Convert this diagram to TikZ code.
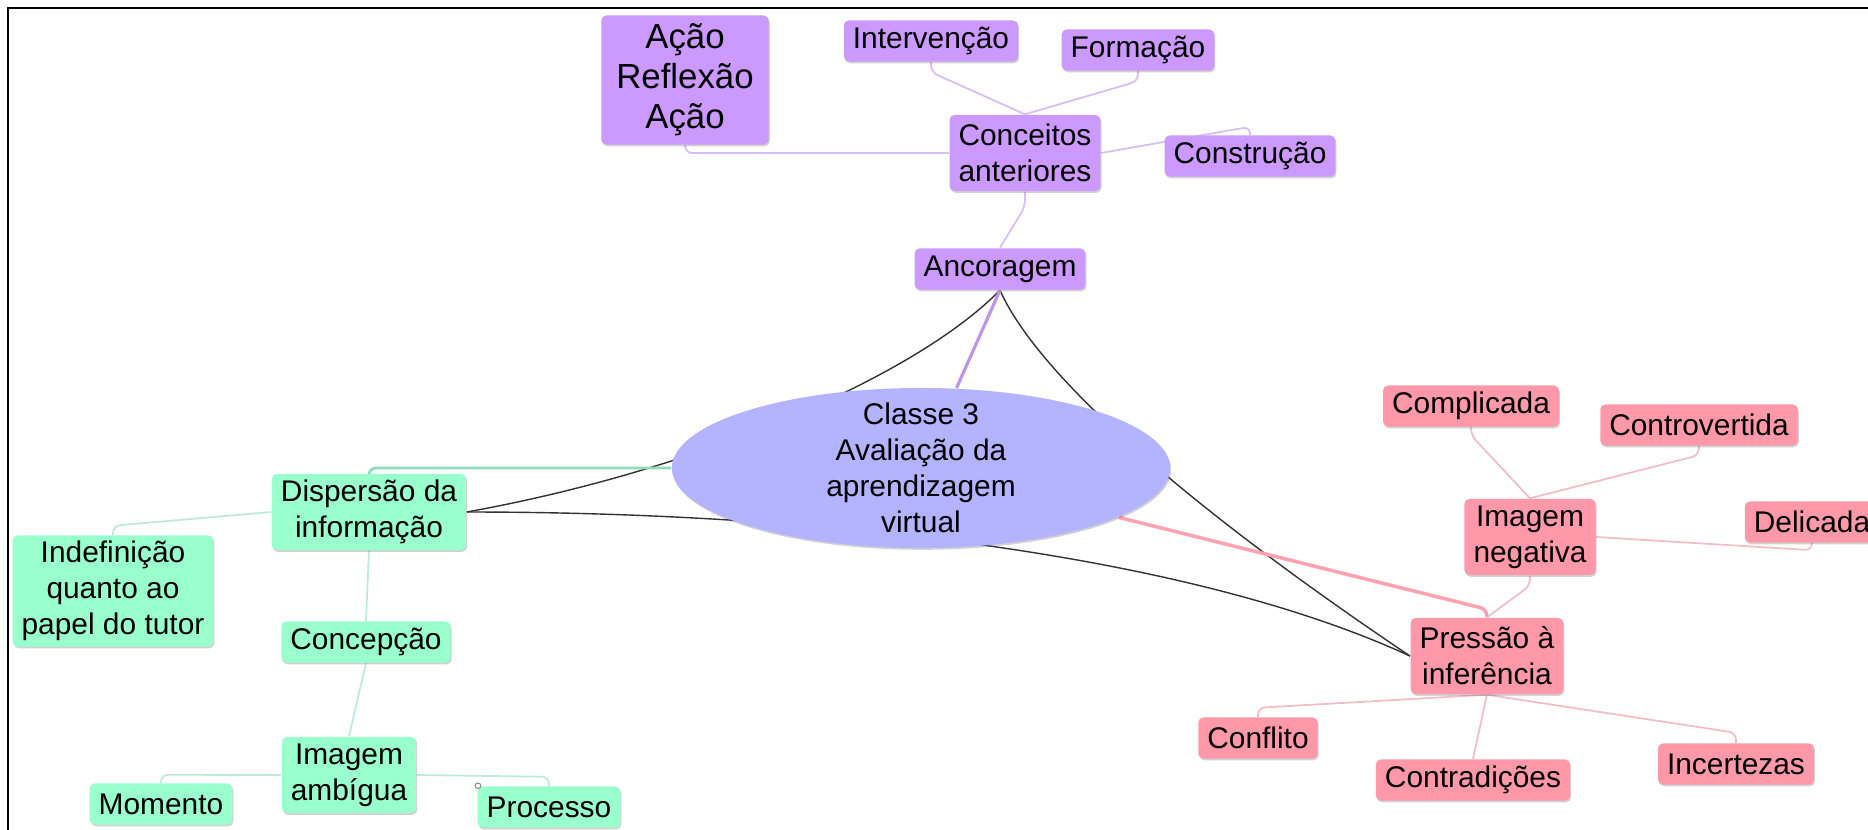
\documentclass[tikz,border=0pt]{standalone}
\usepackage{fontspec}
\setmainfont{Liberation Sans}
\usetikzlibrary{shapes.geometric, shadows, calc, backgrounds}

\definecolor{lilac}{HTML}{CC99FF}
\definecolor{mint}{HTML}{99FFCC}
\definecolor{rose}{HTML}{FF99AA}
\definecolor{periwinkle}{HTML}{B3B3FF}
\definecolor{lilacline}{HTML}{D6BDF2}
\definecolor{mintline}{HTML}{BDEBD8}
\definecolor{roseline}{HTML}{F2BDC7}

\begin{document}
\begin{tikzpicture}[x=0.01cm, y=-0.01cm,
		every node/.style = {font=\fontsize{8.5}{10.2}\selectfont, align=center},
		box/.style = {rectangle, rounded corners=1.4pt, inner xsep=0.09cm, inner ysep=0pt,
			drop shadow={shadow xshift=0.3pt, shadow yshift=-0.5pt, opacity=0.3, fill=black!60}},
		one/.style = {box, minimum height=0.41cm},
		two/.style = {box, minimum height=0.76cm},
		vbox/.style = {fill=lilac},
		gbox/.style = {fill=mint},
		rbox/.style = {fill=rose},
		thin/.style = {line width=0.5pt, rounded corners=2pt},
		vline/.style = {thin, draw=lilacline},
		gline/.style = {thin, draw=mintline},
		rline/.style = {thin, draw=roseline},
		xlink/.style = {line width=0.4pt, draw=black!80}]
	\useasboundingbox (0,0) rectangle (1868,830);
	\draw[line width=0.5pt] (8,830) -- (8,8) -- (1868,8);
	
	% centre
	\node [ellipse, fill=periwinkle, minimum width=4.98cm, minimum height=1.6cm, inner sep=0pt,
		drop shadow={shadow xshift=0.3pt, shadow yshift=-0.5pt, opacity=0.3, fill=black!60}] (core) at (921,468) {};
	\node (coretxt) at (core.center) {Classe 3\\Avaliação da\\aprendizagem\\virtual};
	
	% Ancoragem
	\node [one, vbox] (anco) at (1000,269) {Ancoragem};
	\node [two, vbox] (conc) at (1025,153) {Conceitos\\anteriores};
	\node [box, vbox, inner xsep=0.15cm, minimum height=1.29cm, font=\fontsize{9.9}{11.4}\selectfont] (acao) at (685,80) {Ação\\Reflexão\\Ação};
	\node [one, vbox] (intv) at (931,41) {Intervenção};
	\node [one, vbox] (form) at (1138,50) {Formação};
	\node [one, vbox] (cons) at (1250,156) {Construção};
	
	% Dispersao
	\node [two, gbox] (disp) at (369,512) {Dispersão da\\informação};
	\node [box, gbox, minimum height=1.11cm] (indef) at (113,591) {Indefinição\\quanto ao\\papel do tutor};
	\node [one, gbox] (concp) at (366,642) {Concepção};
	\node [two, gbox] (ambig) at (349,775) {Imagem\\ambígua};
	\node [one, gbox] (mom) at (161,804) {Momento};
	\node [one, gbox] (proc) at (549,807) {Processo};
	\draw[black!45, fill=white, line width=0.3pt] ($(proc.north west)+(1,0)$) circle[radius=0.8pt];
	
	% Pressao
	\node [two, rbox] (press) at (1487,656) {Pressão à\\inferência};
	\node [two, rbox] (neg) at (1530,537) {Imagem\\negativa};
	\node [one, rbox] (compl) at (1471,406) {Complicada};
	\node [one, rbox] (contr) at (1699,425) {Controvertida};
	\node [one, rbox] (delic) at (1812,522) {Delicada};
	\node [one, rbox] (confl) at (1258,738) {Conflito};
	\node [one, rbox] (contra) at (1473,780) {Contradições};
	\node [one, rbox] (incer) at (1736,764) {Incertezas};
	
	\begin{scope}[on background layer]
		% cross links
		\draw[xlink] (disp.east) .. controls (700,470) and (916,376) .. (anco.south);
		\draw[xlink] (disp.east) .. controls (800,512) and (1180,550) .. (press.west);
		\draw[xlink] (anco.south) .. controls (1040,380) and (1200,515) .. (press.west);
		
		\draw[line width=0.9pt, draw=lilac!90!black!90] (core) -- (anco.south);
		\draw[line width=0.8pt, draw=mint!85!black!90, rounded corners=2pt] (core.west) -| (disp.north);
		\draw[line width=1pt, draw=rose!92!white, rounded corners=2pt] (core) -- ($(press.north)+(0,-8)$) -- (press.north);
		
		\draw[vline] (anco.north) -- ($(conc.south)+(0,15)$) -- (conc.south);
		\draw[vline] (conc.west) -| (acao.south);
		\draw[vline] (conc.north) -- ($(intv.south)+(0,10)$) -- (intv.south);
		\draw[vline] (conc.north) -- ($(form.south)+(0,10)$) -- (form.south);
		\draw[vline] (conc.east) -- ($(cons.north)+(0,-8)$) -- (cons.north);
		
		\draw[gline] (disp.west) -- ($(indef.north)+(0,-9)$) -- (indef.north);
		\draw[gline] (disp.south) -- (concp.north);
		\draw[gline] (concp.south) -- (ambig.north);
		\draw[gline] (ambig.west) -- ($(mom.north)+(0,-8)$) -- (mom.north);
		\draw[gline] (ambig.east) -- ($(proc.north)+(0,-9)$) -- (proc.north);
		
		\draw[rline] (press.north) -- ($(neg.south)+(0,10)$) -- (neg.south);
		\draw[rline] (neg.north) -- ($(compl.south)+(0,8)$) -- (compl.south);
		\draw[rline] (neg.north) -- ($(contr.south)+(0,9)$) -- (contr.south);
		\draw[rline] (neg.east) -- ($(delic.south)+(0,7)$) -- (delic.south);
		\draw[rline] (press.south) -- ($(confl.north)+(0,-9)$) -- (confl.north);
		\draw[rline] (press.south) -- (contra.north);
		\draw[rline] (press.south) -- ($(incer.north)+(0,-10)$) -- (incer.north);
	\end{scope}
\end{tikzpicture}
\end{document}
